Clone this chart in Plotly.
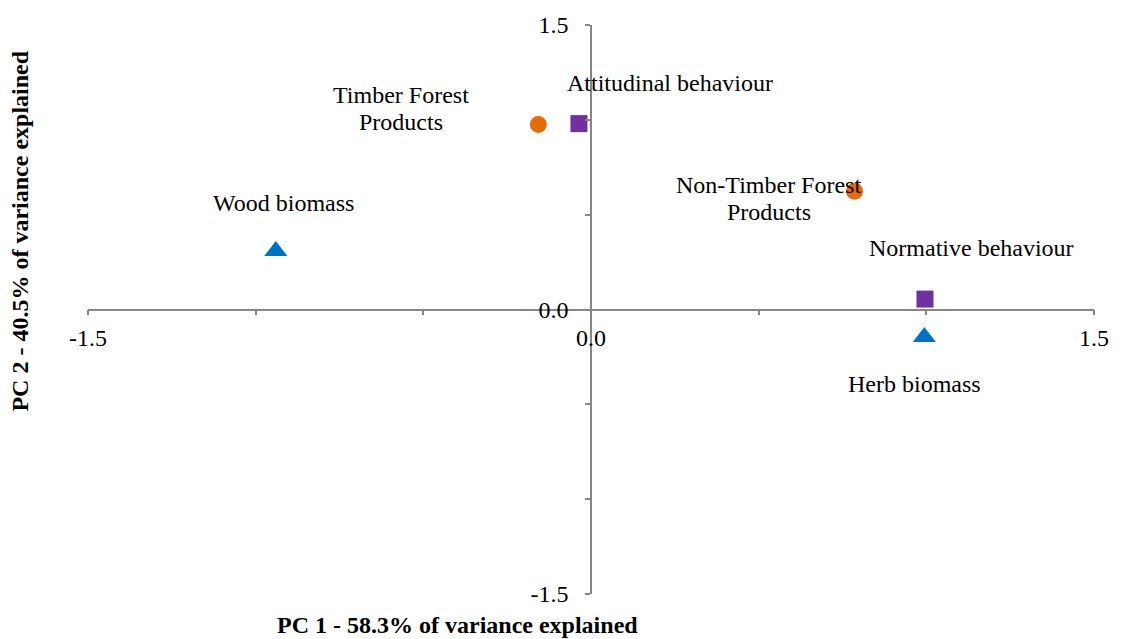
import plotly.graph_objects as go

# ---- data ----
names = ["Timber Forest<br>Products", "Attitudinal behaviour", "Non-Timber Forest<br>Products",
         "Normative behaviour", "Herb biomass", "Wood biomass"]
pc1 = [-0.157, -0.036, 0.786, 0.996, 0.994, -0.940]
pc2 = [0.976, 0.980, 0.623, 0.055, -0.145, 0.309]
groups = ["circle", "square", "circle", "square", "triangle", "triangle"]

tick_vals = [-1.5, -1.0, -0.5, 0.0, 0.5, 1.0, 1.5]
tick_text = ["-1.5", "", "", "0.0", "", "", "1.5"]

x_title = "PC 1 - 58.3% of variance explained"
y_title = "PC 2 - 40.5% of variance explained"

# ---- styling ----
FONT = "Liberation Serif"
FS = 24
LINE_H = 26.6
group_style = {
    "circle": dict(symbol="circle", color="#E46C0A", size=17),
    "square": dict(symbol="square", color="#7030A0", size=17),
    "triangle": dict(symbol="triangle-up", color="#0070C0", size=20),
}
# label offsets in pixels (dx right, dy up) relative to each point
label_shift = [(-137, 16), (91, 41), (-86, -7), (47, 51), (-10, -47), (8, 48)]
AXIS_COLOR = "#868686"

fig = go.Figure()
for g in ["circle", "square", "triangle"]:
    idx = [i for i, gg in enumerate(groups) if gg == g]
    st = group_style[g]
    fig.add_trace(go.Scatter(
        x=[pc1[i] for i in idx], y=[pc2[i] for i in idx], mode="markers",
        marker=dict(symbol=st["symbol"], color=st["color"], size=st["size"], line=dict(width=0)),
        showlegend=False, hoverinfo="skip"))

for i, n in enumerate(names):
    dx, dy = label_shift[i]
    lines = n.split("<br>")
    nl = len(lines)
    for k, line in enumerate(lines):
        off = ((nl - 1) / 2 - k) * LINE_H
        fig.add_annotation(x=pc1[i], y=pc2[i], xref="x", yref="y", text=line, showarrow=False,
                           xshift=dx, yshift=dy + off, xanchor="center", yanchor="middle",
                           font=dict(family=FONT, size=FS, color="black"))

axis_common = dict(
    range=[-1.5, 1.5], tickmode="array", tickvals=tick_vals, ticktext=tick_text,
    showgrid=False, zeroline=False, showline=True, linecolor=AXIS_COLOR, linewidth=1.5,
    ticks="outside", ticklen=5, tickwidth=1.5, tickcolor=AXIS_COLOR,
    tickfont=dict(family=FONT, size=FS, color="black"),
    anchor="free", position=0.5, fixedrange=True,
)
fig.update_layout(
    width=1121, height=639,
    margin=dict(l=88, r=26, t=20, b=45),
    paper_bgcolor="white", plot_bgcolor="white",
    xaxis=dict(**axis_common, ticklabelstandoff=2),
    yaxis=dict(**axis_common, ticklabelstandoff=12),
    font=dict(family=FONT),
)
fig.add_annotation(text="<b>" + x_title + "</b>", xref="paper", yref="paper", x=0.367, y=-0.054,
                   xanchor="center", yanchor="middle", showarrow=False,
                   font=dict(family=FONT, size=FS, color="black"))
fig.add_annotation(text="<b>" + y_title + "</b>", xref="paper", yref="paper", x=-0.068, y=0.638,
                   xanchor="center", yanchor="middle", textangle=-90, showarrow=False,
                   font=dict(family=FONT, size=FS, color="black"))

fig.write_html("out.html", config={"displayModeBar": False},
               post_script="document.body.style.margin='0';")
